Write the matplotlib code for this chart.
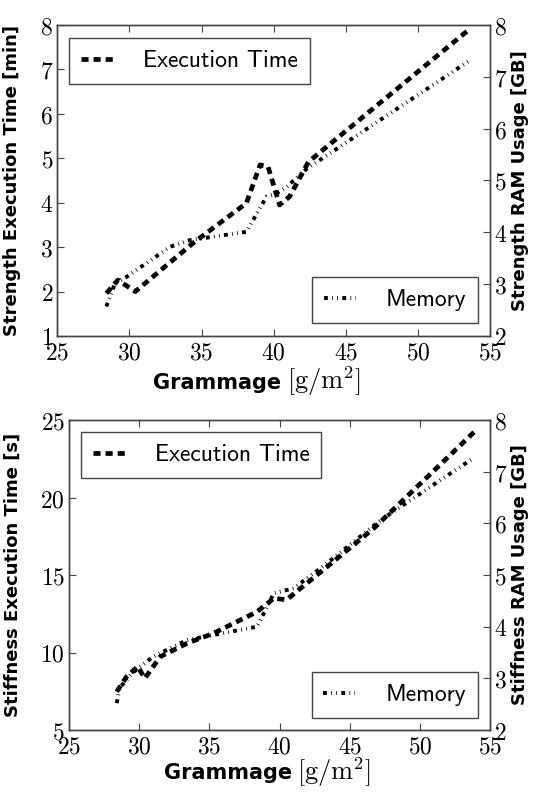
import matplotlib
matplotlib.use("Agg")
import matplotlib.pyplot as plt
from matplotlib.ticker import FormatStrFormatter, MultipleLocator

plt.rcParams['mathtext.fontset'] = 'cm'

# Strength (top panel)
str_time_x = [28.4, 29.2, 30.4, 34.4, 38.1, 39.05, 39.6, 40.4, 41.1, 42.4, 53.5]
str_time_min = [1.96, 2.26, 2.0, 3.09, 3.99, 4.85, 4.81, 3.95, 4.14, 4.92, 7.89]
str_mem_x = [28.4, 29.0, 29.8, 32.8, 34.2, 38.1, 39.5, 40.2, 40.9, 42.3, 53.6]
str_mem_gb = [2.57, 3.02, 3.14, 3.72, 3.85, 4.01, 4.69, 4.75, 4.88, 5.23, 7.32]

# Stiffness (bottom panel)
stf_time_x = [28.4, 29.1, 29.9, 30.4, 31.5, 33.4, 35.3, 38.4, 39.6, 40.5, 43.4, 46.7, 53.9]
stf_time_s = [7.47, 8.44, 9.1, 8.33, 9.73, 10.59, 11.24, 12.63, 13.5, 13.4, 15.54, 18.0, 24.25]
stf_mem_x = [28.4, 28.6, 29.5, 30.1, 31.0, 33.4, 38.4, 39.6, 41.0, 43.4, 47.2, 53.8]
stf_mem_gb = [2.52, 2.81, 3.1, 3.23, 3.42, 3.74, 4.0, 4.65, 4.74, 5.23, 6.06, 7.26]

panels = [
    dict(rect=[57.3 / 539, 1 - 336 / 794, 433 / 539, 311 / 794],
         tx=str_time_x, ty=str_time_min, mx=str_mem_x, my=str_mem_gb,
         ylim=(1, 8), ystep=1,
         ylabel='Strength Execution Time [min]', y2label='Strength RAM Usage [GB]',
         lab_l=-0.105, lab_r=1.069, lab_x=-0.15, split=0.526,
         leg1=(0.027, 0.958), leg2=(0.9716, 0.042)),
    dict(rect=[69 / 539, 1 - 730 / 794, 421 / 539, 310 / 794],
         tx=stf_time_x, ty=stf_time_s, mx=stf_mem_x, my=stf_mem_gb,
         ylim=(5, 25), ystep=5,
         ylabel='Stiffness Execution Time [s]', y2label='Stiffness RAM Usage [GB]',
         lab_l=-0.133, lab_r=1.071, lab_x=-0.14, split=0.537,
         leg1=(0.028, 0.961), leg2=(0.971, 0.039)),
]

spine_col = '#444444'
tick_fs = 17
label_font = dict(family='DejaVu Sans', weight='bold', size=13)
leg_font = dict(family='cmss10', size=17)

fig = plt.figure(figsize=(5.39, 7.94), dpi=100)

for p in panels:
    ax = fig.add_axes(p['rect'])
    ax2 = ax.twinx()

    l1, = ax.plot(p['tx'], p['ty'], color='black', lw=3.4, dashes=(1.5, 1.06),
                  label='Execution Time')
    l2, = ax2.plot(p['mx'], p['my'], color='black', lw=2.8,
                   dashes=(1.0, 1.1, 0.2, 1.1, 0.2, 1.1), label='Memory')

    ax.set_xlim(25, 55)
    ax.set_ylim(*p['ylim'])
    ax2.set_ylim(2, 8)
    ax.xaxis.set_major_locator(MultipleLocator(5))
    ax.yaxis.set_major_locator(MultipleLocator(p['ystep']))
    ax2.yaxis.set_major_locator(MultipleLocator(1))
    for a in (ax.xaxis, ax.yaxis, ax2.yaxis):
        a.set_major_formatter(FormatStrFormatter('$%d$'))

    ax.tick_params(direction='in', top=True, right=False, length=5, width=0.8,
                   color=spine_col, labelsize=tick_fs, pad=3)
    ax2.tick_params(direction='in', length=5, width=0.8, color=spine_col,
                    labelsize=tick_fs, pad=3)
    for a in (ax, ax2):
        for s in a.spines.values():
            s.set_color(spine_col)
            s.set_linewidth(1.0)

    ax.set_ylabel(p['ylabel'], **label_font)
    ax2.set_ylabel(p['y2label'], rotation=90, **label_font)
    ax.yaxis.set_label_coords(p['lab_l'], 0.5)
    ax2.yaxis.set_label_coords(p['lab_r'], 0.5)
    ax.yaxis.label.set_va('center')
    ax2.yaxis.label.set_va('center')

    # x label: bold sans word plus larger serif unit
    ax.text(p['split'] - 0.008, p['lab_x'], 'Grammage', transform=ax.transAxes,
            ha='right', va='center', family='DejaVu Sans', weight='bold', size=15)
    ax.text(p['split'] + 0.004, p['lab_x'] + 0.004, r'$[\mathrm{g/m^2}]$',
            transform=ax.transAxes, ha='left', va='center', size=19)

    for a, h, loc, anchor in ((ax, l1, 'upper left', p['leg1']),
                              (ax2, l2, 'lower right', p['leg2'])):
        leg = a.legend(handles=[h], loc=loc, bbox_to_anchor=anchor,
                       borderaxespad=0, fancybox=False, framealpha=1,
                       prop=leg_font, handlelength=1.36, handletextpad=1.27,
                       borderpad=0.5)
        leg.get_frame().set_edgecolor(spine_col)
        leg.get_frame().set_linewidth(1.0)

fig.savefig('out.png', dpi=100)
